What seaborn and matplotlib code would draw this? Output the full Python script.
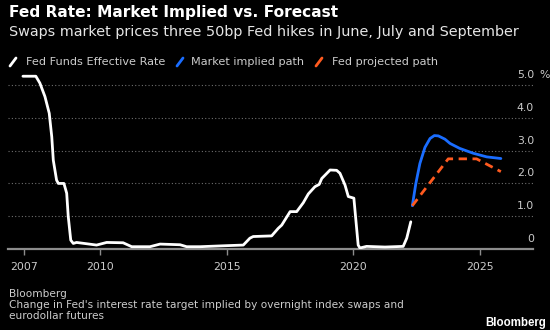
import numpy as np
import pandas as pd
import matplotlib
matplotlib.use("Agg")
import matplotlib.pyplot as plt
import matplotlib.transforms as mtransforms
from matplotlib.lines import Line2D
import seaborn as sns

# ---- data ----
effr_years = [2006.94, 2007.45, 2007.61, 2007.81, 2007.98, 2008.08, 2008.14, 2008.27, 2008.34,
              2008.56, 2008.67, 2008.73, 2008.83, 2008.93, 2009.06, 2009.46, 2009.85, 2010.25,
              2010.9, 2011.24, 2011.96, 2012.36, 2012.75, 2013.15, 2013.41, 2013.94, 2014.93,
              2015.65, 2015.91, 2016.04, 2016.77, 2017.03, 2017.17, 2017.5, 2017.76, 2018.02,
              2018.22, 2018.48, 2018.65, 2018.75, 2019.08, 2019.34, 2019.47, 2019.67, 2019.8,
              2020.02, 2020.19, 2020.26, 2020.52, 2021.25, 2021.97, 2022.11, 2022.27]
effr_values = [5.27, 5.27, 5.06, 4.65, 4.14, 3.42, 2.71, 2.10, 2.00,
               2.00, 1.70, 1.00, 0.27, 0.17, 0.20, 0.16, 0.12, 0.20,
               0.19, 0.07, 0.07, 0.15, 0.14, 0.13, 0.07, 0.07, 0.10,
               0.12, 0.33, 0.38, 0.40, 0.63, 0.73, 1.14, 1.14, 1.41,
               1.68, 1.90, 1.97, 2.15, 2.41, 2.40, 2.31, 1.95, 1.60,
               1.55, 0.12, 0.03, 0.08, 0.06, 0.08, 0.33, 0.83]

market_years = [2022.33, 2022.47, 2022.63, 2022.83, 2023.03, 2023.2, 2023.36, 2023.62,
                2023.82, 2024.2, 2024.74, 2025.27, 2025.83]
market_values = [1.32, 2.00, 2.61, 3.10, 3.37, 3.46, 3.45, 3.35, 3.22, 3.07, 2.92, 2.81, 2.76]

fed_years = [2022.33, 2023.75, 2024.87, 2025.83]
fed_values = [1.32, 2.75, 2.75, 2.36]

x_ticks = [2007, 2010, 2015, 2020, 2025]
x_tick_labels = ["2007", "2010", "2015", "2020", "2025"]
y_ticks = [0, 1, 2, 3, 4, 5]
y_tick_labels = ["0", "1.0", "2.0", "3.0", "4.0", "5.0"]

series_names = ["Fed Funds Effective Rate", "Market implied path", "Fed projected path"]
series_colors = ["#ffffff", "#1a6dff", "#ff5a1f"]

title = "Fed Rate: Market Implied vs. Forecast"
subtitle = "Swaps market prices three 50bp Fed hikes in June, July and September"
source = "Bloomberg"
note = "Change in Fed's interest rate target implied by overnight index swaps and\neurodollar futures"

# ---- style ----
sns.set_theme(style="dark")
plt.rcParams["font.family"] = ["DejaVu Sans"]

W, H = 550, 330
fig = plt.figure(figsize=(5.5, 3.3), dpi=100, facecolor="black")
ax = fig.add_axes([8 / W, 1 - 249 / H, 525 / W, 179 / H])
ax.set_facecolor("black")

df_effr = pd.DataFrame({"year": effr_years, "rate": effr_values})
df_mkt = pd.DataFrame({"year": market_years, "rate": market_values})
df_fed = pd.DataFrame({"year": fed_years, "rate": fed_values})

sns.lineplot(data=df_effr, x="year", y="rate", ax=ax, color=series_colors[0], lw=2.0,
             solid_joinstyle="round", zorder=3)
sns.lineplot(data=df_mkt, x="year", y="rate", ax=ax, color=series_colors[1], lw=2.0,
             solid_capstyle="round", zorder=3)
sns.lineplot(data=df_fed, x="year", y="rate", ax=ax, color=series_colors[2], lw=2.0,
             linestyle=(0, (3, 2)), zorder=3)

ax.set_xlim(2006.35, 2027.1)
ax.set_ylim(0, 5.46)
ax.set_xlabel("")
ax.set_ylabel("")

ax.set_xticks(x_ticks)
ax.set_xticklabels(x_tick_labels)
ax.tick_params(axis="x", direction="out", length=4, width=1, color="#8c8c8c",
               labelcolor="#cccccc", labelsize=7.8, pad=5, bottom=True)
ax.set_yticks(y_ticks)
ax.set_yticklabels([])
ax.tick_params(axis="y", length=0, left=False)
ax.grid(axis="y", color="#6e6e6e", linestyle=(0, (1, 2)), linewidth=0.8)
ax.grid(axis="x", visible=False)
for s in ["top", "left", "right"]:
    ax.spines[s].set_visible(False)
ax.spines["bottom"].set_color("#8c8c8c")
ax.spines["bottom"].set_linewidth(1.6)
ax.spines["bottom"].set_zorder(2)

# y tick labels inside, above the gridlines, right aligned
trans = mtransforms.offset_copy(ax.get_yaxis_transform(), fig=fig, x=1, y=10, units="dots")
for v, lab in zip(y_ticks, y_tick_labels):
    ax.text(1.0, v, lab, transform=trans, ha="right", va="center",
            color="#cccccc", fontsize=7.8, clip_on=False)
ax.text(1.0, y_ticks[-1], "%", transform=mtransforms.offset_copy(
    ax.get_yaxis_transform(), fig=fig, x=6, y=10, units="dots"),
    ha="left", va="center", color="#cccccc", fontsize=7.8, clip_on=False)

# titles
fig.text(9 / W, 1 - 13 / H, title, color="white", fontsize=11.1, fontweight="bold",
         ha="left", va="center")
fig.text(9 / W, 1 - 32 / H, subtitle, color="#e6e6e6", fontsize=10.4,
         ha="left", va="center")

# legend
leg_sym_x = [10, 177, 316]
leg_txt_x = [26, 191, 332]
ly = 62
for name, col, sx, tx in zip(series_names, series_colors, leg_sym_x, leg_txt_x):
    fig.add_artist(Line2D([sx / W, (sx + 6) / W], [1 - (ly + 4) / H, 1 - (ly - 4) / H],
                          color=col, lw=2.0, transform=fig.transFigure))
    fig.text(tx / W, 1 - ly / H, name, color="#cccccc", fontsize=8.1,
             ha="left", va="center")

# footer
fig.text(9 / W, 1 - 294 / H, source, color="#cccccc", fontsize=7.6, ha="left", va="center")
fig.text(9 / W, 1 - 300 / H, note, color="#cccccc", fontsize=7.6, ha="left", va="top",
         linespacing=1.15)
fig.text(546 / W, 1 - 323 / H, "Bloomberg", color="white", fontsize=8.3,
         fontweight="bold", family=["Liberation Sans", "DejaVu Sans"],
         ha="right", va="center")

fig.savefig("out.png", dpi=100, facecolor="black")
